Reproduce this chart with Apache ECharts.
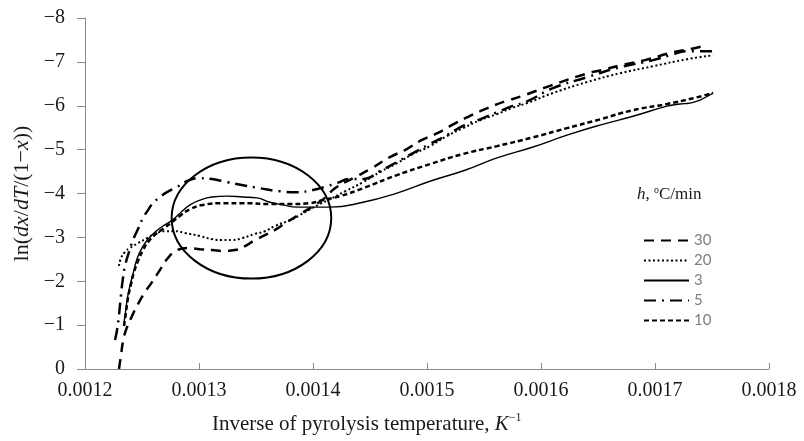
<!DOCTYPE html>
<html>
<head>
<meta charset="utf-8">
<script src="https://cdn.jsdelivr.net/npm/echarts@6/dist/echarts.min.js"></script>
<style>html,body{margin:0;padding:0;background:#fff;}</style>
</head>
<body>
<div id="chart" style="width:804px;height:441px;"></div>
<script>
// heating rate h, oC/min - legend order
var rates = ['30', '20', '3', '5', '10'];

// [1/T (K^-1), ln(dx/dT/(1-x))]
var h30 = [
  [0.0012298, 0], [0.0012316, -0.32], [0.0012333, -0.62], [0.0012360, -0.89], [0.0012404, -1.16],
  [0.0012465, -1.48], [0.0012526, -1.75], [0.0012588, -1.98], [0.0012658, -2.26], [0.0012728, -2.53],
  [0.0012807, -2.71], [0.0012904, -2.76], [0.0013009, -2.73], [0.0013114, -2.71], [0.0013219, -2.69],
  [0.0013316, -2.71], [0.0013404, -2.80], [0.0013491, -2.94], [0.0013579, -3.05], [0.0013667, -3.17],
  [0.0013772, -3.35], [0.0013886, -3.53], [0.0014000, -3.71], [0.0014105, -3.90], [0.0014193, -4.12],
  [0.0014368, -4.37], [0.0014518, -4.58], [0.0014675, -4.83], [0.0014807, -4.99], [0.0014956, -5.22],
  [0.0015096, -5.38], [0.0015246, -5.60], [0.0015395, -5.79], [0.0015535, -5.95], [0.0015684, -6.10],
  [0.0015833, -6.22], [0.0016096, -6.47], [0.0016386, -6.72], [0.0016561, -6.83], [0.0016693, -6.92],
  [0.0016912, -7.04], [0.0017158, -7.22], [0.0017307, -7.29], [0.0017456, -7.38]
];
var h20 = [
  [0.0012298, -2.35], [0.0012316, -2.53], [0.0012351, -2.67], [0.0012395, -2.76], [0.0012465, -2.87],
  [0.0012544, -2.98], [0.0012614, -3.08], [0.0012702, -3.14], [0.0012789, -3.14], [0.0012877, -3.10],
  [0.0013009, -3.03], [0.0013114, -2.96], [0.0013202, -2.94], [0.0013289, -2.94], [0.0013377, -2.98],
  [0.0013491, -3.08], [0.0013579, -3.14], [0.0013667, -3.26], [0.0013798, -3.39], [0.0013886, -3.51],
  [0.0013974, -3.64], [0.0014061, -3.76], [0.0014149, -3.87], [0.0014281, -4.05], [0.0014439, -4.26],
  [0.0014588, -4.49], [0.0014737, -4.69], [0.0014877, -4.90], [0.0015026, -5.08], [0.0015175, -5.31],
  [0.0015316, -5.49], [0.0015465, -5.67], [0.0015614, -5.81], [0.0015746, -5.95], [0.0015877, -6.06],
  [0.0016105, -6.29], [0.0016404, -6.54], [0.0016693, -6.74], [0.0016982, -6.90], [0.0017281, -7.06],
  [0.0017509, -7.15]
];
var h3 = [
  [0.0012342, -1.05], [0.0012360, -1.39], [0.0012377, -1.69], [0.0012404, -2.00], [0.0012430, -2.26],
  [0.0012456, -2.51], [0.0012500, -2.76], [0.0012553, -2.96], [0.0012614, -3.12], [0.0012684, -3.26],
  [0.0012763, -3.39], [0.0012833, -3.55], [0.0012921, -3.74], [0.0013009, -3.85], [0.0013114, -3.92],
  [0.0013246, -3.94], [0.0013386, -3.92], [0.0013509, -3.90], [0.0013623, -3.80], [0.0013737, -3.74],
  [0.0013860, -3.69], [0.0014000, -3.69], [0.0014149, -3.69], [0.0014439, -3.80], [0.0014737, -4.01],
  [0.0015026, -4.28], [0.0015333, -4.53], [0.0015614, -4.81], [0.0015930, -5.06], [0.0016228, -5.33],
  [0.0016518, -5.56], [0.0016807, -5.76], [0.0017105, -5.99], [0.0017219, -6.04], [0.0017307, -6.06],
  [0.0017395, -6.13], [0.0017509, -6.29]
];
var h5 = [
  [0.0012263, -0.66], [0.0012281, -0.89], [0.0012298, -1.23], [0.0012316, -1.69], [0.0012333, -2.07],
  [0.0012351, -2.35], [0.0012386, -2.67], [0.0012421, -2.94], [0.0012465, -3.19], [0.0012509, -3.44],
  [0.0012553, -3.62], [0.0012596, -3.78], [0.0012658, -3.92], [0.0012719, -4.03], [0.0012807, -4.15],
  [0.0012921, -4.31], [0.0013009, -4.35], [0.0013114, -4.33], [0.0013246, -4.26], [0.0013386, -4.19],
  [0.0013535, -4.12], [0.0013711, -4.05], [0.0013860, -4.03], [0.0014000, -4.08], [0.0014105, -4.15],
  [0.0014211, -4.24], [0.0014325, -4.33], [0.0014439, -4.33], [0.0014588, -4.51], [0.0014737, -4.72],
  [0.0014877, -4.92], [0.0015026, -5.13], [0.0015175, -5.33], [0.0015316, -5.54], [0.0015465, -5.69],
  [0.0015614, -5.85], [0.0015746, -5.99], [0.0015877, -6.10], [0.0016105, -6.40], [0.0016404, -6.65],
  [0.0016693, -6.88], [0.0016982, -7.04], [0.0017132, -7.15], [0.0017281, -7.24], [0.0017509, -7.24]
];
var h10 = [
  [0.0012342, -0.98], [0.0012360, -1.30], [0.0012377, -1.62], [0.0012404, -1.94], [0.0012430, -2.21],
  [0.0012465, -2.46], [0.0012509, -2.71], [0.0012561, -2.92], [0.0012623, -3.08], [0.0012693, -3.21],
  [0.0012763, -3.35], [0.0012833, -3.49], [0.0012921, -3.64], [0.0013035, -3.74], [0.0013211, -3.78],
  [0.0013386, -3.78], [0.0013623, -3.76], [0.0013798, -3.76], [0.0013974, -3.78], [0.0014088, -3.85],
  [0.0014237, -3.94], [0.0014439, -4.12], [0.0014737, -4.42], [0.0015026, -4.67], [0.0015316, -4.90],
  [0.0015614, -5.08], [0.0015930, -5.28], [0.0016228, -5.49], [0.0016518, -5.69], [0.0016807, -5.90],
  [0.0017105, -6.04], [0.0017333, -6.17], [0.0017509, -6.29]
];

var xRange = [0.0012, 0.0018, 0.0001];
var yRange = [-8, 0, 1];

// the circled region (centre and half axes, data units)
var ringCentre = [0.001346, -3.44];
var ringHalf = [0.00007, 1.38];

var serif = 'Liberation Serif';
var ink = '#1a1a1a';
var myChart = echarts.init(document.getElementById('chart'));

function line(name, data, dash, width) {
  return {
    name: name,
    type: 'line',
    data: data,
    symbol: 'none',
    showSymbol: false,
    smooth: true,
    silent: true,
    itemStyle: {color: '#000'},
    lineStyle: {color: '#000', width: width, type: dash}
  };
}

function txt(size, italic) {
  return {fontFamily: serif, fontSize: size, fontWeight: 'normal', fontStyle: italic ? 'italic' : 'normal', color: ink};
}

var supX = txt(12); supX.verticalAlign = 'top'; supX.lineHeight = 14;
var supH = txt(10); supH.verticalAlign = 'top'; supH.lineHeight = 12;
var nX = txt(21); nX.lineHeight = 24;
var iX = txt(21, true); iX.lineHeight = 24;
var nH = txt(17); nH.lineHeight = 20;
var iH = txt(17, true); iH.lineHeight = 20;

var option = {
  animation: false,
  backgroundColor: '#fff',
  title: [{
    left: 212,
    top: 412,
    padding: 0,
    text: '{n|Inverse of pyrolysis temperature, }{i|K}{s|\u22121}',
    textStyle: {fontWeight: 'normal', rich: {n: nX, i: iX, s: supX}}
  }, {
    left: 637,
    top: 185,
    padding: 0,
    text: '{i|h}{n|, }{s|o}{n|C/min}',
    textStyle: {fontWeight: 'normal', rich: {n: nH, i: iH, s: supH}}
  }],
  legend: {
    orient: 'vertical',
    left: 643,
    top: 233,
    padding: 0,
    itemWidth: 45,
    itemHeight: 14,
    itemGap: 5,
    data: rates,
    itemStyle: {opacity: 0},
    textStyle: {fontFamily: 'Lato', fontSize: 15, color: '#7f7f7f'}
  },
  grid: {left: 85, right: 35, top: 18, bottom: 72, containLabel: false},
  xAxis: {
    type: 'value',
    min: xRange[0],
    max: xRange[1],
    interval: xRange[2],
    splitLine: {show: false},
    axisLine: {lineStyle: {color: '#8a8a8a', width: 1}},
    axisTick: {inside: true, length: 6, lineStyle: {color: '#8a8a8a'}},
    axisLabel: {
      margin: 12,
      fontFamily: serif,
      fontSize: 20,
      color: ink,
      formatter: function (v) { return v.toFixed(4); }
    }
  },
  yAxis: {
    type: 'value',
    inverse: true,
    min: yRange[0],
    max: yRange[1],
    interval: yRange[2],
    splitLine: {show: false},
    axisLine: {show: true, lineStyle: {color: '#8a8a8a', width: 1}},
    axisTick: {show: true, length: 8, lineStyle: {color: '#8a8a8a'}},
    axisLabel: {
      margin: 20,
      fontFamily: serif,
      fontSize: 20,
      color: ink,
      formatter: function (v) { return v < 0 ? '\u2212' + Math.abs(v) : String(v); }
    },
    name: '{n|ln(}{i|dx}{n|/}{i|dT}{n|/(1\u2212}{i|x}{n|))}',
    nameLocation: 'middle',
    nameRotate: 90,
    nameGap: 50,
    nameTextStyle: {rich: {n: txt(22), i: txt(22, true)}}
  },
  series: [
    line('30', h30, [10, 7], 2.5),
    line('20', h20, [2, 2.5], 2),
    line('3', h3, 'solid', 1.4),
    line('5', h5, [12, 6, 2, 6], 2.5),
    line('10', h10, [5, 3], 2.5)
  ]
};

myChart.setOption(option);

// ellipse drawn around the crossing region
var c = myChart.convertToPixel({gridIndex: 0}, ringCentre);
var e = myChart.convertToPixel({gridIndex: 0}, [ringCentre[0] + ringHalf[0], ringCentre[1] + ringHalf[1]]);
myChart.setOption({
  graphic: [{
    type: 'ellipse',
    silent: true,
    shape: {cx: c[0], cy: c[1], rx: Math.abs(e[0] - c[0]), ry: Math.abs(e[1] - c[1])},
    style: {fill: 'none', stroke: '#000', lineWidth: 2}
  }]
});
</script>
</body>
</html>
